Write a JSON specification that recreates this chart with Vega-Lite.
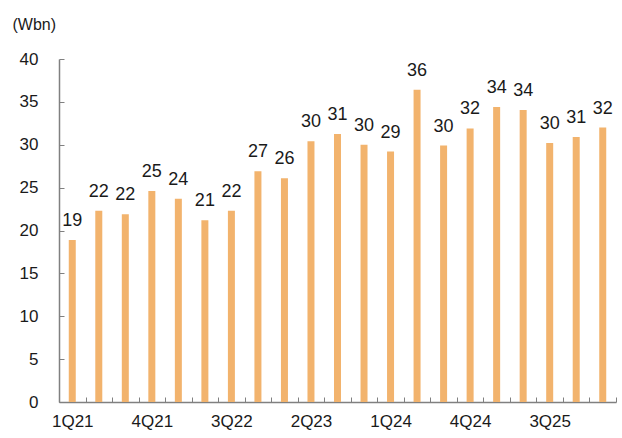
{
  "$schema": "https://vega.github.io/schema/vega-lite/v6.json",
  "width": 557,
  "height": 343,
  "autosize": "none",
  "padding": {"left": 59, "top": 59, "right": 6, "bottom": 36},
  "background": "white",
  "config": {
    "view": {"stroke": null},
    "font": "Liberation Sans"
  },
  "data": {
    "values": [
      {"q": "1Q21", "v": 18.9},
      {"q": "2Q21", "v": 22.3},
      {"q": "3Q21", "v": 21.9},
      {"q": "4Q21", "v": 24.6},
      {"q": "1Q22", "v": 23.7},
      {"q": "2Q22", "v": 21.2},
      {"q": "3Q22", "v": 22.3},
      {"q": "4Q22", "v": 26.9},
      {"q": "1Q23", "v": 26.1},
      {"q": "2Q23", "v": 30.4},
      {"q": "3Q23", "v": 31.25},
      {"q": "4Q23", "v": 30.0},
      {"q": "1Q24", "v": 29.2},
      {"q": "2Q24", "v": 36.4},
      {"q": "3Q24", "v": 29.9},
      {"q": "4Q24", "v": 31.9},
      {"q": "1Q25", "v": 34.4},
      {"q": "2Q25", "v": 34.05},
      {"q": "3Q25", "v": 30.2},
      {"q": "4Q25", "v": 30.9},
      {"q": "1Q26", "v": 32.0}
    ]
  },
  "encoding": {
    "x": {
      "field": "q",
      "type": "ordinal",
      "sort": null,
      "scale": {"paddingInner": 0, "paddingOuter": 0},
      "axis": {
        "title": null,
        "labelAngle": 0,
        "labelExpr": "datum.index * 20 % 3 == 0 ? datum.label : ''",
        "tickBand": "extent",
        "tickSize": -5,
        "tickColor": "#808080",
        "domainColor": "#808080",
        "domainWidth": 1.5,
        "labelFontSize": 17,
        "labelColor": "#1a1a1a",
        "labelPadding": 16,
        "labelFont": "Liberation Sans"
      }
    },
    "y": {
      "field": "v",
      "type": "quantitative",
      "scale": {"domain": [0, 40]},
      "axis": {
        "title": "(Wbn)",
        "titleAngle": 0,
        "titleX": -47,
        "titleY": -35,
        "titleAlign": "left",
        "titleBaseline": "middle",
        "titleFontWeight": "normal",
        "titleFontSize": 16,
        "titleColor": "#1a1a1a",
        "titleFont": "Liberation Sans",
        "values": [0, 5, 10, 15, 20, 25, 30, 35, 40],
        "grid": false,
        "tickSize": -5,
        "tickColor": "#808080",
        "domainColor": "#808080",
        "domainWidth": 1.5,
        "labelFontSize": 17,
        "labelColor": "#1a1a1a",
        "labelPadding": 26,
        "labelFont": "Liberation Sans"
      }
    }
  },
  "layer": [
    {
      "mark": {"type": "bar", "color": "#F2B36D", "size": 7}
    },
    {
      "mark": {"type": "text", "baseline": "alphabetic", "dy": -14, "fontSize": 18, "color": "#1a1a1a", "font": "Liberation Sans"},
      "encoding": {"text": {"field": "v", "type": "quantitative", "format": ".0f"}}
    }
  ]
}
